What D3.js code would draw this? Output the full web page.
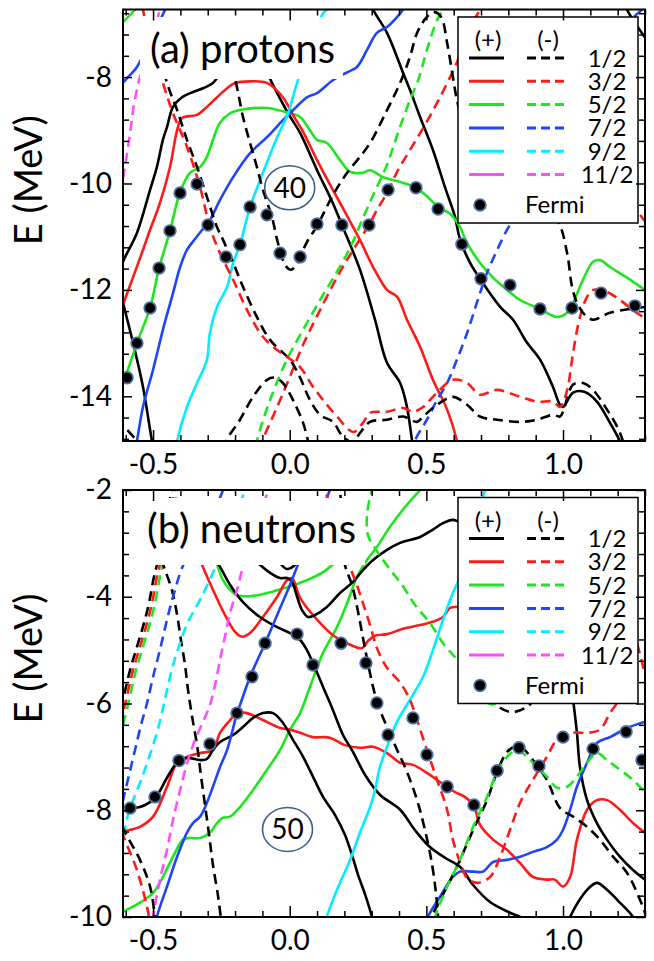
<!DOCTYPE html>
<html>
<head>
<meta charset="utf-8">
<script src="https://cdn.jsdelivr.net/npm/d3@7"></script>
<style>
  body { margin: 0; background: #fff; }
  svg { display: block; font-family: Lato, "Open Sans", sans-serif; }
</style>
</head>
<body>
<svg id="chart" width="654" height="961"></svg>
<script>
// axes
const xDomain = [-0.61, 1.3];
const xMajor = [-0.5, 0.0, 0.5, 1.0];
const protonDomain = [-14.84, -6.73];
const protonTicks = [-14, -12, -10, -8];
const neutronDomain = [-10, -2];
const neutronTicks = [-10, -8, -6, -4, -2];
const omegaLabels = ['1/2', '3/2', '5/2', '7/2', '9/2', '11/2'];
const omegaColors = ['#000000', '#ff1a1a', '#1ee61e', '#1f45f5', '#00eeff', '#ff4dff'];

// (a) protons, levels as [beta, E]
const pB1 = [[-0.63,-11.8],[-0.61,-11.47],[-0.559,-10.93],[-0.511,-10.12],[-0.486,-9.69],[-0.464,-9.18],[-0.449,-8.94],[-0.427,-8.56],[-0.394,-8.38],[-0.354,-8.28],[-0.317,-8.21],[-0.281,-8.11],[-0.2,-7.6],[-0.12,-7.55],[-0.065,-8.11],[-0.006,-8.68],[0.038,-9.05],[0.100,-9.75],[0.158,-10.37],[0.191,-10.78],[0.257,-11.62],[0.312,-12.56],[0.356,-13.37],[0.404,-13.75],[0.429,-14.20],[0.448,-14.84],[0.46,-15.2]];
const pB2 = [[0.29,-6.5],[0.305,-6.73],[0.356,-7.17],[0.411,-7.87],[0.440,-8.24],[0.477,-8.75],[0.524,-9.37],[0.568,-10.07],[0.605,-10.63],[0.618,-10.95],[0.630,-11.15],[0.660,-11.49],[0.704,-11.85],[0.770,-12.32],[0.817,-12.56],[0.868,-12.99],[0.916,-13.31],[0.963,-13.82],[0.989,-14.16],[1.000,-14.20],[1.037,-13.93],[1.080,-13.92],[1.124,-14.10],[1.172,-14.50],[1.208,-14.84],[1.23,-15.1]];
const pB3 = [[-0.63,-11.8],[-0.61,-12.24],[-0.573,-13.0],[-0.537,-13.82],[-0.504,-14.84],[-0.49,-15.2]];
const pB5 = [[1.22,-6.5],[1.234,-6.73],[1.32,-7.4]];
const pBd1 = [[-0.225,-7.49],[-0.193,-8.19],[-0.171,-8.75],[-0.145,-9.24],[-0.120,-9.69],[-0.098,-10.12],[-0.065,-10.63],[-0.046,-11.06],[-0.030,-11.35],[-0.015,-11.55],[0.005,-11.62],[0.025,-11.52],[0.040,-11.36],[0.063,-11.10],[0.100,-10.80],[0.158,-10.22],[0.210,-9.80],[0.268,-9.43],[0.301,-9.18],[0.356,-8.62],[0.404,-8.11],[0.440,-7.62],[0.466,-7.17],[0.502,-6.87],[0.528,-6.78],[0.554,-6.87],[0.576,-7.36],[0.597,-8.00],[0.612,-8.43],[0.660,-9.37],[0.770,-10.12],[0.916,-10.40],[0.982,-10.72],[1.015,-11.31],[1.033,-11.94],[1.051,-12.24],[1.080,-12.47],[1.110,-12.56],[1.172,-12.43],[1.300,-12.32],[1.33,-12.3]];
const pBd2 = [[-0.486,-7.31],[-0.449,-8.11],[-0.412,-8.62],[-0.376,-9.18],[-0.339,-9.69],[-0.303,-10.25],[-0.266,-10.82],[-0.244,-11.06],[-0.207,-11.49],[-0.171,-11.94],[-0.120,-12.51],[-0.072,-12.94],[-0.025,-13.18],[0.001,-13.31],[0.038,-13.65],[0.074,-14.07],[0.111,-14.35],[0.158,-14.48],[0.195,-14.76],[0.232,-14.86],[0.257,-14.69],[0.294,-14.48],[0.356,-14.44],[0.415,-14.38],[0.466,-14.48],[0.488,-14.38],[0.539,-14.16],[0.597,-14.01],[0.649,-14.16],[0.696,-14.38],[0.759,-14.44],[0.843,-14.48],[0.905,-14.44],[0.963,-14.35],[0.989,-14.38],[1.000,-14.29],[1.037,-13.78],[1.073,-13.75],[1.110,-13.88],[1.161,-14.25],[1.198,-14.57],[1.219,-14.84],[1.23,-15.1]];
const pBd3 = [[-0.24,-15.0],[-0.233,-14.84],[-0.182,-14.44],[-0.134,-14.01],[-0.083,-13.69],[-0.054,-13.65],[-0.025,-13.75],[0.012,-14.07],[0.049,-14.50],[0.067,-14.84],[0.075,-15.0]];
const pBd4 = [[-0.63,-14.4],[-0.61,-14.54],[-0.559,-14.84],[-0.54,-15.0]];
const pRd1 = [[-0.545,-6.5],[-0.537,-6.73],[-0.511,-7.31],[-0.464,-8.11],[-0.427,-8.68],[-0.376,-9.31],[-0.328,-10.07],[-0.292,-10.82],[-0.255,-11.31],[-0.207,-11.81],[-0.156,-12.38],[-0.098,-12.88],[-0.046,-13.13],[-0.010,-13.26],[0.038,-13.45],[0.085,-13.82],[0.122,-14.07],[0.173,-14.38],[0.232,-14.67],[0.268,-14.50],[0.294,-14.31],[0.356,-14.29],[0.415,-14.22],[0.451,-14.29],[0.488,-14.20],[0.539,-13.93],[0.597,-13.69],[0.649,-13.75],[0.696,-13.97],[0.759,-13.88],[0.843,-14.01],[0.905,-14.10],[0.963,-14.10],[0.989,-14.20],[1.000,-14.12],[1.018,-13.82],[1.037,-13.18],[1.062,-12.51],[1.088,-12.13],[1.110,-12.00],[1.161,-12.04],[1.208,-12.19],[1.256,-12.38],[1.300,-12.53],[1.33,-12.6]];
const pRd2 = [[0.71,-6.5],[0.696,-6.73],[0.660,-7.06],[0.612,-7.72],[0.550,-8.38],[0.495,-8.90],[0.440,-9.37],[0.393,-9.78],[0.360,-10.14],[0.319,-10.50],[0.290,-10.78],[0.232,-11.25],[0.184,-11.66],[0.111,-12.38],[0.049,-13.03],[0.001,-13.63],[-0.046,-14.20],[-0.101,-14.84],[-0.12,-15.1]];
const pRd3 = [[1.2,-9.8],[1.245,-10.31],[1.31,-10.78]];
const pGd = [[0.57,-6.5],[0.561,-6.73],[0.539,-6.93],[0.502,-7.49],[0.470,-8.06],[0.440,-8.43],[0.396,-9.05],[0.356,-9.65],[0.305,-10.22],[0.257,-10.78],[0.221,-11.21],[0.166,-11.72],[0.111,-12.19],[0.049,-12.75],[-0.010,-13.31],[-0.072,-14.07],[-0.120,-14.84],[-0.13,-15.1]];
const pG1 = [[-0.63,-14.1],[-0.61,-13.78],[-0.559,-13.00],[-0.511,-12.34],[-0.478,-11.59],[-0.438,-10.89],[-0.401,-10.16],[-0.365,-9.80],[-0.328,-9.69],[-0.303,-9.50],[-0.281,-9.18],[-0.255,-8.86],[-0.218,-8.68],[-0.182,-8.62],[-0.083,-8.58],[0.001,-8.68],[0.038,-8.75],[0.074,-9.00],[0.100,-9.18],[0.136,-9.24],[0.184,-9.56],[0.221,-9.78],[0.268,-9.80],[0.294,-9.75],[0.341,-9.88],[0.404,-9.97],[0.462,-10.08],[0.502,-10.24],[0.543,-10.44],[0.587,-10.57],[0.623,-10.82],[0.649,-11.12],[0.696,-11.49],[0.744,-11.77],[0.795,-12.00],[0.843,-12.19],[0.916,-12.36],[0.978,-12.51],[1.015,-12.43],[1.037,-12.24],[1.073,-11.81],[1.110,-11.47],[1.135,-11.44],[1.172,-11.57],[1.234,-11.77],[1.300,-12.00],[1.33,-12.1]];
const pG2 = [[-0.63,-7.1],[-0.61,-6.97],[-0.566,-6.73],[-0.55,-6.6]];
const pR1 = [[-0.63,-12.6],[-0.61,-12.28],[-0.573,-11.76],[-0.537,-11.25],[-0.511,-10.87],[-0.475,-10.37],[-0.438,-9.69],[-0.412,-9.00],[-0.394,-8.77],[-0.339,-8.71],[-0.303,-8.56],[-0.266,-8.38],[-0.229,-8.21],[-0.200,-8.11],[-0.145,-8.08],[-0.083,-8.11],[-0.025,-8.38],[0.012,-8.71],[0.049,-9.03],[0.100,-9.56],[0.158,-10.12],[0.210,-10.61],[0.257,-11.06],[0.305,-11.57],[0.356,-12.00],[0.393,-12.13],[0.429,-12.56],[0.477,-13.07],[0.524,-13.69],[0.576,-14.25],[0.612,-14.84],[0.62,-15.1]];
const pBl1 = [[-0.57,-15.1],[-0.559,-14.84],[-0.537,-14.20],[-0.500,-13.50],[-0.464,-12.75],[-0.427,-12.06],[-0.401,-11.57],[-0.376,-11.25],[-0.346,-11.04],[-0.317,-10.85],[-0.292,-10.69],[-0.255,-10.31],[-0.207,-9.88],[-0.145,-9.43],[-0.083,-9.13],[-0.025,-8.81],[0.001,-8.68],[0.063,-8.38],[0.100,-8.30],[0.158,-8.06],[0.210,-7.91],[0.246,-7.81],[0.283,-7.49],[0.319,-7.17],[0.356,-7.06],[0.393,-6.87],[0.415,-6.73],[0.43,-6.6]];
const pBl2 = [[-0.63,-8.3],[-0.61,-8.11],[-0.559,-7.81],[-0.511,-7.31],[-0.456,-6.73],[-0.44,-6.5]];
const pBld = [[0.45,-15.1],[0.458,-14.84],[0.502,-14.44],[0.539,-14.07],[0.576,-13.75],[0.612,-13.31],[0.649,-12.81],[0.685,-12.24],[0.722,-11.68],[0.759,-11.25],[0.795,-10.87],[0.817,-10.69],[0.916,-9.56],[1.026,-8.43],[1.135,-7.49],[1.245,-6.93],[1.31,-6.65]];
const pCy = [[-0.42,-15.1],[-0.412,-14.84],[-0.376,-14.20],[-0.339,-13.75],[-0.303,-13.31],[-0.292,-12.81],[-0.266,-12.32],[-0.229,-11.94],[-0.207,-11.49],[-0.182,-11.15],[-0.145,-10.44],[-0.098,-9.80],[-0.046,-9.13],[-0.006,-8.68],[0.027,-8.11],[0.074,-7.49],[0.122,-6.80],[0.136,-6.73],[0.145,-6.6]];
const pMd = [[-0.62,-10.2],[-0.61,-9.90],[-0.603,-9.69],[-0.584,-9.05],[-0.573,-8.62],[-0.559,-8.24],[-0.548,-8.00],[-0.511,-7.40],[-0.475,-6.73],[-0.465,-6.55]];
const pFermiX = [-0.595,-0.559,-0.511,-0.478,-0.438,-0.401,-0.339,-0.299,-0.233,-0.182,-0.145,-0.083,-0.035,0.038,0.100,0.191,0.290,0.360,0.462,0.543,0.630,0.700,0.806,0.916,1.033,1.139,1.263];
const pFermiE = [-13.65,-13.0,-12.34,-11.59,-10.89,-10.18,-10.01,-10.78,-11.38,-11.15,-10.44,-10.59,-11.31,-11.38,-10.76,-10.78,-10.78,-10.12,-10.08,-10.48,-11.14,-11.79,-11.91,-12.36,-12.34,-12.06,-12.30];

// (b) neutrons
const nTdK = [[-0.63,-6.4],[-0.614,-6.03],[-0.584,-5.37],[-0.559,-4.94],[-0.533,-4.49],[-0.515,-4.12],[-0.497,-3.63],[-0.486,-3.40],[-0.456,-2.56],[-0.431,-2.00],[-0.42,-1.8]];
const nTdR = [[-0.62,-6.4],[-0.603,-6.03],[-0.573,-5.37],[-0.548,-4.94],[-0.522,-4.49],[-0.504,-4.12],[-0.486,-3.63],[-0.475,-3.40],[-0.445,-2.56],[-0.420,-2.00],[-0.41,-1.8]];
const nTdG = [[-0.61,-6.4],[-0.592,-6.03],[-0.562,-5.37],[-0.537,-4.94],[-0.511,-4.49],[-0.493,-4.12],[-0.475,-3.63],[-0.464,-3.40],[-0.434,-2.56],[-0.409,-2.00],[-0.40,-1.8]];
const nBd1 = [[-0.48,-3.0],[-0.475,-3.22],[-0.456,-3.50],[-0.431,-3.87],[-0.412,-4.34],[-0.398,-4.81],[-0.383,-5.28],[-0.372,-5.75],[-0.357,-6.25],[-0.339,-6.78],[-0.325,-7.34],[-0.310,-7.90],[-0.295,-8.46],[-0.281,-9.02],[-0.263,-9.58],[-0.252,-10.0],[-0.245,-10.2]];
const nBd2 = [[0.18,-1.8],[0.184,-2.00],[0.195,-2.75],[0.202,-3.40],[0.228,-3.78],[0.250,-4.28],[0.268,-4.77],[0.286,-5.24],[0.305,-5.69],[0.323,-6.03],[0.356,-6.44],[0.393,-6.87],[0.429,-7.28],[0.466,-7.81],[0.495,-8.37],[0.521,-9.02],[0.535,-9.55],[0.543,-10.0],[0.546,-10.2]];
const nBd3 = [[0.515,-10.2],[0.521,-10.0],[0.550,-9.68],[0.576,-9.43],[0.623,-8.93],[0.671,-8.37],[0.722,-7.81],[0.759,-7.28],[0.795,-6.91],[0.824,-6.81],[0.850,-6.83],[0.890,-7.06],[0.941,-7.43],[0.989,-7.96],[1.037,-8.12],[1.088,-8.31],[1.135,-8.55],[1.183,-8.87],[1.234,-9.17],[1.282,-9.68],[1.300,-9.92],[1.31,-10.1]];
const nBd4 = [[0.733,-5.84],[0.770,-6.08],[0.817,-6.16],[0.872,-6.05],[0.908,-5.84]];
const nBd5 = [[-0.63,-8.0],[-0.610,-8.33],[-0.548,-8.93],[-0.511,-9.43],[-0.493,-10.0],[-0.488,-10.2]];
const nRd1 = [[0.12,-1.8],[0.129,-2.00],[0.184,-2.75],[0.221,-3.44],[0.246,-3.78],[0.268,-4.12],[0.294,-4.53],[0.319,-4.96],[0.356,-5.33],[0.404,-5.61],[0.440,-5.93],[0.466,-6.31],[0.502,-6.87],[0.539,-7.43],[0.576,-7.99],[0.597,-8.55],[0.623,-8.97],[0.649,-9.27],[0.685,-9.36],[0.733,-9.25],[0.770,-8.87],[0.806,-8.37],[0.843,-7.86],[0.890,-7.43],[0.941,-7.00],[0.978,-6.68],[1.037,-6.55],[1.088,-6.55],[1.135,-6.49],[1.172,-6.18],[1.198,-5.99],[1.227,-5.75]];
const nRd2 = [[1.25,-4.6],[1.267,-4.81],[1.300,-5.46]];
const nRd3 = [[-0.63,-8.1],[-0.610,-8.46],[-0.559,-9.12],[-0.522,-9.81],[-0.515,-10.0],[-0.512,-10.2]];
const nGd1 = [[0.330,-1.63],[0.301,-2.00],[0.283,-2.47],[0.286,-2.84],[0.312,-3.09],[0.360,-3.44],[0.411,-3.78],[0.458,-4.15],[0.513,-4.49],[0.561,-4.87],[0.612,-5.18],[0.678,-5.65],[0.733,-6.01],[0.788,-5.93],[0.843,-5.75]];
const nGd2 = [[0.525,-10.2],[0.532,-10.0],[0.576,-9.43],[0.623,-8.93],[0.671,-8.31],[0.722,-7.75],[0.759,-7.28],[0.795,-7.00],[0.832,-6.87],[0.868,-7.00],[0.905,-7.19],[0.941,-7.37],[0.978,-7.58],[1.015,-7.56],[1.051,-7.37],[1.088,-7.11],[1.124,-6.93],[1.161,-7.06],[1.208,-7.24],[1.256,-7.43],[1.300,-7.66],[1.33,-7.8]];
const nBlD = [[-0.23,-1.7],[-0.244,-2.00],[-0.310,-2.71],[-0.365,-3.16],[-0.394,-3.46],[-0.427,-4.00],[-0.449,-4.43],[-0.475,-5.00],[-0.500,-5.50],[-0.522,-5.99],[-0.544,-6.40],[-0.566,-6.87],[-0.588,-7.34],[-0.610,-7.81],[-0.62,-8.0]];
const nCyD = [[-0.155,-1.8],[-0.164,-2.00],[-0.218,-2.75],[-0.281,-3.55],[-0.328,-4.06],[-0.372,-4.47],[-0.401,-4.87],[-0.427,-5.28],[-0.449,-5.75],[-0.467,-6.16],[-0.486,-6.55],[-0.518,-7.06],[-0.548,-7.49],[-0.573,-7.81],[-0.592,-8.09],[-0.606,-8.46],[-0.612,-8.7]];
const nMd = [[-0.07,-1.8],[-0.079,-2.00],[-0.127,-2.75],[-0.171,-3.44],[-0.193,-3.87],[-0.218,-4.30],[-0.237,-4.75],[-0.255,-5.18],[-0.273,-5.65],[-0.292,-6.03],[-0.317,-6.34],[-0.346,-6.68],[-0.372,-7.06],[-0.401,-7.62],[-0.427,-8.18],[-0.449,-8.74],[-0.475,-9.30],[-0.493,-9.78],[-0.500,-10.0],[-0.503,-10.2]];
const nR1 = [[-0.342,-3.12],[-0.328,-3.31],[-0.281,-3.87],[-0.237,-4.34],[-0.200,-4.66],[-0.175,-4.75],[-0.145,-4.68],[-0.098,-4.38],[-0.046,-4.00],[-0.010,-3.69],[0.008,-3.65],[0.038,-4.02],[0.100,-4.43],[0.158,-4.72],[0.221,-4.90],[0.265,-4.96],[0.286,-4.83],[0.312,-4.73],[0.356,-4.70],[0.415,-4.60],[0.477,-4.53],[0.524,-4.47],[0.561,-4.38],[0.587,-4.21],[0.616,-4.19],[0.733,-4.15]];
const nR2 = [[-0.63,-8.45],[-0.610,-8.40],[-0.548,-8.31],[-0.500,-8.12],[-0.449,-7.56],[-0.412,-7.11],[-0.376,-7.00],[-0.328,-6.93],[-0.281,-6.87],[-0.255,-6.55],[-0.218,-6.31],[-0.193,-6.18],[-0.156,-6.18],[-0.098,-6.31],[-0.035,-6.46],[0.001,-6.49],[0.038,-6.55],[0.085,-6.63],[0.147,-6.64],[0.202,-6.78],[0.257,-6.83],[0.305,-6.81],[0.356,-6.93],[0.404,-7.11],[0.451,-7.15],[0.502,-7.30],[0.550,-7.47],[0.605,-7.66],[0.641,-7.75],[0.674,-7.92],[0.696,-8.27],[0.744,-8.55],[0.795,-8.74],[0.843,-8.99],[0.890,-9.25],[0.941,-9.30],[0.970,-9.30],[1.000,-9.43],[1.026,-9.25],[1.051,-8.55],[1.088,-7.99],[1.124,-7.81],[1.161,-7.81],[1.208,-7.99],[1.256,-8.24],[1.300,-8.42],[1.33,-8.5]];
const nG1 = [[-0.292,-3.12],[-0.266,-3.40],[-0.244,-3.69],[-0.218,-3.87],[-0.193,-3.97],[-0.145,-3.99],[-0.083,-3.93],[-0.010,-3.82],[0.063,-3.69],[0.122,-3.54],[0.147,-3.44],[0.202,-3.22]];
const nG2 = [[-0.63,-9.95],[-0.610,-9.90],[-0.548,-9.73],[-0.500,-9.55],[-0.464,-9.25],[-0.427,-8.87],[-0.390,-8.55],[-0.365,-8.52],[-0.328,-8.52],[-0.292,-8.42],[-0.266,-8.24],[-0.244,-8.14],[-0.218,-8.12],[-0.182,-7.94],[-0.134,-7.62],[-0.083,-7.24],[-0.035,-6.87],[0.001,-6.49],[0.038,-6.18],[0.074,-5.69],[0.122,-5.05],[0.173,-4.57],[0.210,-4.12],[0.246,-3.63],[0.283,-3.31],[0.319,-3.07],[0.367,-2.69],[0.422,-2.32],[0.488,-1.94]];
const nB1 = [[-0.63,-8.05],[-0.610,-8.01],[-0.584,-7.96],[-0.548,-7.94],[-0.493,-7.77],[-0.449,-7.39],[-0.412,-7.11],[-0.376,-7.02],[-0.328,-7.06],[-0.303,-7.04],[-0.281,-6.87],[-0.255,-6.72],[-0.207,-6.59],[-0.171,-6.44],[-0.134,-6.27],[-0.098,-6.18],[-0.061,-6.18],[-0.025,-6.36],[0.012,-6.68],[0.049,-7.00],[0.085,-7.37],[0.122,-7.75],[0.166,-8.09],[0.202,-8.46],[0.228,-8.84],[0.250,-9.21],[0.276,-9.58],[0.301,-10.0],[0.31,-10.2]];
const nB3 = [[-0.284,-3.22],[-0.255,-3.44],[-0.218,-3.78],[-0.171,-4.10],[-0.109,-4.38],[-0.046,-4.57],[0.001,-4.68],[0.038,-4.81],[0.063,-5.00],[0.085,-5.24],[0.122,-5.69],[0.158,-6.12],[0.195,-6.59],[0.232,-6.91],[0.276,-7.34],[0.330,-7.71],[0.404,-7.99],[0.458,-8.37],[0.513,-8.69],[0.568,-8.89],[0.623,-9.06],[0.671,-9.40],[0.733,-9.72],[0.806,-9.92],[0.843,-10.0],[0.88,-10.1]];
const nB4 = [[-0.127,-3.31],[-0.109,-3.40],[-0.072,-3.55],[-0.035,-3.65],[-0.010,-3.65],[0.008,-3.72],[0.027,-4.00],[0.045,-4.25],[0.067,-4.38],[0.093,-4.34],[0.136,-4.19],[0.184,-3.93],[0.232,-3.72],[0.268,-3.50],[0.305,-3.31],[0.356,-3.12],[0.404,-2.99],[0.477,-2.88],[0.521,-2.75],[0.561,-2.62],[0.597,-2.56],[0.623,-2.60],[0.770,-2.75]];
const nB6 = [[-0.072,-3.03],[-0.035,-3.37],[-0.010,-3.48],[0.016,-3.42],[0.045,-3.12]];
const nB7 = [[1.026,-5.00],[1.033,-5.75],[1.037,-5.93],[1.051,-6.55],[1.062,-7.19],[1.088,-7.81],[1.124,-8.24],[1.161,-8.55],[1.208,-8.87],[1.256,-9.12],[1.300,-9.30],[1.33,-9.4]];
const nB8 = [[1.01,-10.3],[1.026,-10.0],[1.088,-9.49],[1.124,-9.36],[1.161,-9.49],[1.208,-9.73],[1.256,-10.0],[1.27,-10.2]];
const nBl1 = [[-0.49,-10.2],[-0.486,-10.0],[-0.449,-9.43],[-0.412,-8.87],[-0.376,-8.42],[-0.354,-8.24],[-0.328,-8.12],[-0.303,-7.86],[-0.281,-7.56],[-0.255,-7.19],[-0.229,-6.87],[-0.207,-6.46],[-0.193,-6.18],[-0.182,-6.03],[-0.145,-5.50],[-0.090,-4.87],[-0.035,-4.21],[0.001,-3.78],[0.030,-3.40],[0.093,-2.66],[0.147,-2.00],[0.16,-1.8]];
const nBl2 = [[0.50,-10.2],[0.506,-10.0],[0.550,-9.62],[0.597,-9.25],[0.623,-9.15],[0.671,-9.15],[0.707,-9.15],[0.744,-8.97],[0.795,-8.93],[0.843,-8.87],[0.890,-8.78],[0.941,-8.69],[0.978,-8.55],[1.000,-8.37],[1.026,-7.99],[1.051,-7.56],[1.088,-7.11],[1.124,-6.74],[1.172,-6.63],[1.234,-6.46],[1.300,-6.34],[1.33,-6.3]];
const nCy = [[0.13,-10.2],[0.136,-10.0],[0.173,-9.49],[0.221,-8.93],[0.257,-8.42],[0.294,-7.94],[0.312,-7.62],[0.330,-7.19],[0.356,-6.81],[0.393,-6.34],[0.440,-5.93],[0.488,-5.50],[0.524,-5.00],[0.561,-4.43],[0.597,-3.93],[0.623,-3.63],[0.667,-2.84],[0.715,-2.00],[0.73,-1.8]];
const nFermiX = [-0.584,-0.493,-0.405,-0.292,-0.193,-0.138,-0.090,0.027,0.085,0.188,0.279,0.319,0.360,0.451,0.502,0.576,0.674,0.759,0.839,0.912,1.000,1.110,1.231,1.289];
const nFermiE = [-7.96,-7.75,-7.07,-6.76,-6.18,-5.50,-4.87,-4.70,-5.28,-4.87,-5.24,-5.99,-6.59,-6.27,-6.96,-7.56,-7.90,-7.26,-6.83,-7.17,-6.63,-6.85,-6.53,-7.06];

// shell-gap labels
const gapText = ['40', '50'];
const gapX = [0.0, -0.008];
const gapE = [-10.08, -8.36];

const protonCurves = [
  { pts: pB1, k: 0, d: false }, { pts: pB2, k: 0, d: false }, { pts: pB3, k: 0, d: false }, { pts: pB5, k: 0, d: false },
  { pts: pG1, k: 2, d: false }, { pts: pG2, k: 2, d: false }, { pts: pR1, k: 1, d: false },
  { pts: pBl1, k: 3, d: false }, { pts: pBl2, k: 3, d: false }, { pts: pCy, k: 4, d: false },
  { pts: pMd, k: 5, d: true }, { pts: pBld, k: 3, d: true },
  { pts: pGd, k: 2, d: true }, { pts: pRd2, k: 1, d: true }, { pts: pRd3, k: 1, d: true },
  { pts: pBd2, k: 0, d: true }, { pts: pRd1, k: 1, d: true, off: 7 },
  { pts: pBd1, k: 0, d: true }, { pts: pBd3, k: 0, d: true }, { pts: pBd4, k: 0, d: true }
];
const neutronCurves = [
  { pts: nG2, k: 2, d: false }, { pts: nG1, k: 2, d: false }, { pts: nR1, k: 1, d: false }, { pts: nR2, k: 1, d: false },
  { pts: nB1, k: 0, d: false }, { pts: nB3, k: 0, d: false }, { pts: nB4, k: 0, d: false }, { pts: nB6, k: 0, d: false },
  { pts: nB7, k: 0, d: false }, { pts: nB8, k: 0, d: false }, { pts: nCy, k: 4, d: false },
  { pts: nBl1, k: 3, d: false }, { pts: nBl2, k: 3, d: false },
  { pts: nTdK, k: 0, d: true }, { pts: nTdR, k: 1, d: true }, { pts: nTdG, k: 2, d: true },
  { pts: nBd1, k: 0, d: true }, { pts: nBlD, k: 3, d: true }, { pts: nCyD, k: 4, d: true }, { pts: nMd, k: 5, d: true },
  { pts: nBd2, k: 0, d: true }, { pts: nRd1, k: 1, d: true }, { pts: nRd2, k: 1, d: true },
  { pts: nGd1, k: 2, d: true }, { pts: nBd4, k: 0, d: true }, { pts: nBd5, k: 0, d: true }, { pts: nRd3, k: 1, d: true },
  { pts: nBd3, k: 0, d: true }, { pts: nGd2, k: 2, d: true, off: 8 }
];

const svg = d3.select('#chart');
const plotLeft = 123, plotRight = 645;
const x = d3.scaleLinear().domain(xDomain).range([plotLeft, plotRight]);

const panels = [
  { id: 'p', top: 9.5, bottom: 441, domain: protonDomain, ticks: protonTicks, curves: protonCurves,
    fx: pFermiX, fe: pFermiE, title: '(a) protons', box: [140, 17, 203, 62], titleY: 63, gap: 0 },
  { id: 'n', top: 490, bottom: 917, domain: neutronDomain, ticks: neutronTicks, curves: neutronCurves,
    fx: nFermiX, fe: nFermiE, title: '(b) neutrons', box: [137, 498, 228, 67], titleY: 543, gap: 1 }
];

const font = 'Lato, "Open Sans", sans-serif';
const dash = '10,6';

panels.forEach(p => {
  const y = d3.scaleLinear().domain(p.domain).range([p.bottom, p.top]);
  const g = svg.append('g');

  g.append('clipPath').attr('id', 'clip-' + p.id)
    .append('rect').attr('x', plotLeft).attr('y', p.top)
    .attr('width', plotRight - plotLeft).attr('height', p.bottom - p.top);

  const body = g.append('g').attr('clip-path', `url(#clip-${p.id})`);
  const line = d3.line().x(d => x(d[0])).y(d => y(d[1])).curve(d3.curveCatmullRom.alpha(0.5));

  body.selectAll('path.level').data(p.curves).enter().append('path')
    .attr('class', 'level')
    .attr('d', c => line(c.pts))
    .attr('fill', 'none')
    .attr('stroke', c => omegaColors[c.k])
    .attr('stroke-width', 2.6)
    .attr('stroke-dasharray', c => c.d ? dash : null)
    .attr('stroke-dashoffset', c => c.off || 0);

  body.selectAll('circle.fermi').data(p.fx).enter().append('circle')
    .attr('cx', d => x(d))
    .attr('cy', (_, i) => y(p.fe[i]))
    .attr('r', 5.8)
    .attr('fill', '#000')
    .attr('stroke', '#4f6e9e')
    .attr('stroke-width', 1.8);

  // title with white backing
  body.append('rect').attr('x', p.box[0]).attr('y', p.box[1])
    .attr('width', p.box[2]).attr('height', p.box[3]).attr('fill', '#fff');
  g.append('text').attr('x', p.box[0] + 10).attr('y', p.titleY)
    .attr('font-family', font).attr('font-size', 40).text(p.title);

  // shell gap
  const gx = x(gapX[p.gap]), gy = y(gapE[p.gap]);
  g.append('ellipse').attr('cx', gx).attr('cy', gy).attr('rx', 25).attr('ry', 22)
    .attr('fill', 'none').attr('stroke', '#3f5f8f').attr('stroke-width', 1.6);
  g.append('text').attr('x', gx).attr('y', gy + 10).attr('text-anchor', 'middle')
    .attr('font-family', font).attr('font-size', 28).text(gapText[p.gap]);

  // legend
  const lx = 458, ly = p.top + 7.5;
  const lg = g.append('g');
  lg.append('rect').attr('x', lx).attr('y', ly).attr('width', 180).attr('height', 206)
    .attr('fill', '#fff').attr('stroke', '#000').attr('stroke-width', 1.5);
  lg.append('text').attr('x', lx + 30).attr('y', ly + 31).attr('text-anchor', 'middle')
    .attr('font-family', font).attr('font-size', 24).text('(+)');
  lg.append('text').attr('x', lx + 90).attr('y', ly + 31).attr('text-anchor', 'middle')
    .attr('font-family', font).attr('font-size', 24).text('(-)');
  omegaLabels.forEach((lab, i) => {
    const ry = ly + 41 + i * 23.3;
    lg.append('line').attr('x1', lx + 11).attr('x2', lx + 46).attr('y1', ry).attr('y2', ry)
      .attr('stroke', omegaColors[i]).attr('stroke-width', 3);
    lg.append('line').attr('x1', lx + 69).attr('x2', lx + 109).attr('y1', ry).attr('y2', ry)
      .attr('stroke', omegaColors[i]).attr('stroke-width', 3).attr('stroke-dasharray', '9,5');
    lg.append('text').attr('x', lx + 149).attr('y', ry + 8.5).attr('text-anchor', 'middle')
      .attr('font-family', font).attr('font-size', 24).text(lab);
  });
  lg.append('circle').attr('cx', lx + 22).attr('cy', ly + 188).attr('r', 5.8)
    .attr('fill', '#000').attr('stroke', '#4f6e9e').attr('stroke-width', 1.8);
  lg.append('text').attr('x', lx + 67).attr('y', ly + 196)
    .attr('font-family', font).attr('font-size', 24).text('Fermi');

  // axes, ticks pointing inward on all four sides
  const xMinor = d3.range(-6, 14).map(v => v / 10).filter(v => !xMajor.some(m => Math.abs(m - v) < 1e-6));
  const yMinor = d3.range(-40, -4).map(v => +(v * 0.4).toFixed(1))
    .filter(v => v > p.domain[0] && v < p.domain[1] && !p.ticks.includes(v));

  const styleAxis = sel => {
    sel.select('.domain').remove();
    sel.selectAll('line').attr('stroke-width', 1.5);
    sel.selectAll('text').attr('font-family', font).attr('font-size', 28).attr('fill', '#000');
  };

  g.append('g').attr('transform', `translate(0,${p.bottom})`)
    .call(d3.axisBottom(x).tickValues(xMajor).tickSize(-11).tickPadding(13).tickFormat(d => d.toFixed(1)))
    .call(styleAxis);
  g.append('g').attr('transform', `translate(0,${p.bottom})`)
    .call(d3.axisBottom(x).tickValues(xMinor).tickSize(-6).tickFormat('')).call(styleAxis);
  g.append('g').attr('transform', `translate(0,${p.top})`)
    .call(d3.axisTop(x).tickValues(xMajor).tickSize(-11).tickFormat('')).call(styleAxis);
  g.append('g').attr('transform', `translate(0,${p.top})`)
    .call(d3.axisTop(x).tickValues(xMinor).tickSize(-6).tickFormat('')).call(styleAxis);

  g.append('g').attr('transform', `translate(${plotLeft},0)`)
    .call(d3.axisLeft(y).tickValues(p.ticks).tickSize(-9).tickPadding(11).tickFormat(d => String(d)))
    .call(styleAxis);
  g.append('g').attr('transform', `translate(${plotLeft},0)`)
    .call(d3.axisLeft(y).tickValues(yMinor).tickSize(-6).tickFormat('')).call(styleAxis);
  g.append('g').attr('transform', `translate(${plotRight},0)`)
    .call(d3.axisRight(y).tickValues(p.ticks).tickSize(-9).tickFormat('')).call(styleAxis);
  g.append('g').attr('transform', `translate(${plotRight},0)`)
    .call(d3.axisRight(y).tickValues(yMinor).tickSize(-6).tickFormat('')).call(styleAxis);

  g.append('rect').attr('x', plotLeft).attr('y', p.top)
    .attr('width', plotRight - plotLeft).attr('height', p.bottom - p.top)
    .attr('fill', 'none').attr('stroke', '#000').attr('stroke-width', 2);

  const cy = (p.top + p.bottom) / 2 - 45;
  g.append('text').attr('transform', `translate(42,${cy}) rotate(-90)`)
    .attr('text-anchor', 'middle').attr('font-family', font).attr('font-size', 38)
    .text('E (MeV)');
});
</script>
</body>
</html>
